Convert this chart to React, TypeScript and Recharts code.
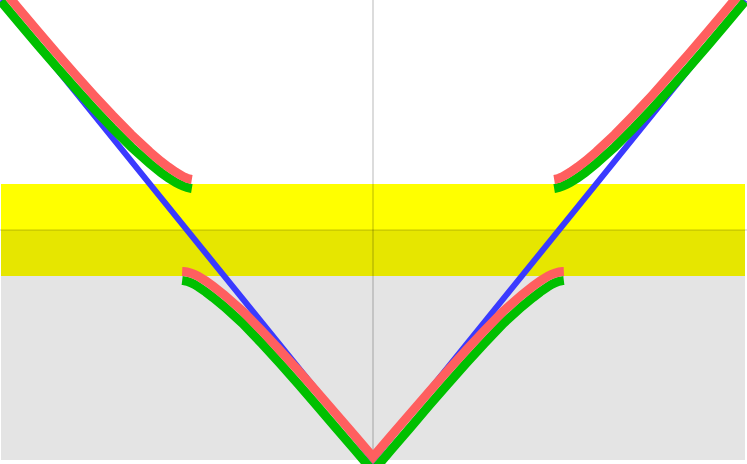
import React from "react";
import { LineChart, Line, XAxis, YAxis, ReferenceArea, ReferenceLine } from "recharts";

// x positions of the sampled points
const upperLeftX = [-1.0, -0.95, -0.9, -0.85, -0.8, -0.75, -0.7, -0.65, -0.6, -0.57, -0.55, -0.53, -0.52, -0.51, -0.5, -0.49, -0.487];
const upperRightX = [0.487, 0.49, 0.5, 0.51, 0.52, 0.53, 0.55, 0.57, 0.6, 0.65, 0.7, 0.75, 0.8, 0.85, 0.9, 0.95, 1.0];
const lowerX = [-0.513, -0.51, -0.5, -0.49, -0.48, -0.47, -0.45, -0.43, -0.4, -0.35, -0.3, -0.25, -0.2, -0.15, -0.1, -0.05, 0,
  0.05, 0.1, 0.15, 0.2, 0.25, 0.3, 0.35, 0.4, 0.43, 0.45, 0.47, 0.48, 0.49, 0.5, 0.51, 0.513];

// green series
const greenUpperLeft = [0.9968, 0.9488, 0.9009, 0.8541, 0.8082, 0.7635, 0.7209, 0.6804, 0.6442, 0.6248, 0.6131, 0.6033, 0.5991, 0.5953, 0.5924, 0.5906, 0.5902];
const greenUpperRight = [0.5902, 0.5906, 0.5924, 0.5953, 0.5991, 0.6033, 0.6131, 0.6248, 0.6442, 0.6804, 0.7209, 0.7635, 0.8082, 0.8541, 0.9009, 0.9488, 0.9968];
const greenLower = [0.3902, 0.3899, 0.3884, 0.3856, 0.3816, 0.3766, 0.3655, 0.3531, 0.3332, 0.2966, 0.254, 0.2096, 0.1642, 0.1175, 0.0702, 0.0231, -0.0245,
  0.0231, 0.0702, 0.1175, 0.1642, 0.2096, 0.254, 0.2966, 0.3332, 0.3531, 0.3655, 0.3766, 0.3816, 0.3856, 0.3884, 0.3899, 0.3902];

// red series
const redUpperLeft = [1.0272, 0.9792, 0.9311, 0.8839, 0.8378, 0.7925, 0.7491, 0.7076, 0.6698, 0.6492, 0.6369, 0.6257, 0.6209, 0.6161, 0.6126, 0.6102, 0.6098];
const redUpperRight = [0.6098, 0.6102, 0.6126, 0.6161, 0.6209, 0.6257, 0.6369, 0.6492, 0.6698, 0.7076, 0.7491, 0.7925, 0.8378, 0.8839, 0.9311, 0.9792, 1.0272];
const redLower = [0.4098, 0.4097, 0.4086, 0.4064, 0.4034, 0.3994, 0.3895, 0.3779, 0.3588, 0.3234, 0.282, 0.2384, 0.1938, 0.1475, 0.1008, 0.0539, 0.0065,
  0.0539, 0.1008, 0.1475, 0.1938, 0.2384, 0.282, 0.3234, 0.3588, 0.3779, 0.3895, 0.3994, 0.4034, 0.4064, 0.4086, 0.4097, 0.4098];

// blue V
const blueX = [-1, 0, 1];
const blueY = [1, 0, 1];

// bands
const bandGrey = [0, 0.4];
const bandDark = [0.4, 0.5];
const bandYellow = [0.5, 0.6];

const pts = (xs: number[], ys: number[]) => xs.map((x, i) => ({ x, y: ys[i] }));

export default function App() {
  const lineProps = { dataKey: "y", dot: false, activeDot: false, isAnimationActive: false, type: "linear" as const };
  return (
    <div style={{ position: "absolute", left: 0, top: 0 }}>
      <LineChart width={747} height={464} margin={{ top: 0, right: 0, bottom: 0, left: 0 }}>
        <XAxis dataKey="x" type="number" domain={[-1.00269, 1.00537]} allowDataOverflow hide />
        <YAxis type="number" domain={[-0.0087, 1]} allowDataOverflow hide />
        <ReferenceArea x1={-1} x2={1} y1={bandGrey[0]} y2={bandGrey[1]} fill="#e4e4e4" fillOpacity={1} stroke="none" />
        <ReferenceArea x1={-1} x2={1} y1={bandDark[0]} y2={bandDark[1]} fill="#e6e600" fillOpacity={1} stroke="none" />
        <ReferenceArea x1={-1} x2={1} y1={bandYellow[0]} y2={bandYellow[1]} fill="#ffff00" fillOpacity={1} stroke="none" />
        <ReferenceLine y={0.5} stroke="#000" strokeOpacity={0.22} segment={[{ x: -1, y: 0.5 }, { x: 1, y: 0.5 }]} />
        <ReferenceLine x={0} stroke="#000" strokeOpacity={0.28} />
        <Line {...lineProps} data={pts(blueX, blueY)} stroke="#3a3aff" strokeWidth={6} />
        <Line {...lineProps} data={pts(upperLeftX, greenUpperLeft)} stroke="#00c000" strokeWidth={9} />
        <Line {...lineProps} data={pts(upperRightX, greenUpperRight)} stroke="#00c000" strokeWidth={9} />
        <Line {...lineProps} data={pts(lowerX, greenLower)} stroke="#00c000" strokeWidth={9} />
        <Line {...lineProps} data={pts(upperLeftX, redUpperLeft)} stroke="#ff5f5f" strokeWidth={9} />
        <Line {...lineProps} data={pts(upperRightX, redUpperRight)} stroke="#ff5f5f" strokeWidth={9} />
        <Line {...lineProps} data={pts(lowerX, redLower)} stroke="#ff5f5f" strokeWidth={9} />
      </LineChart>
    </div>
  );
}
